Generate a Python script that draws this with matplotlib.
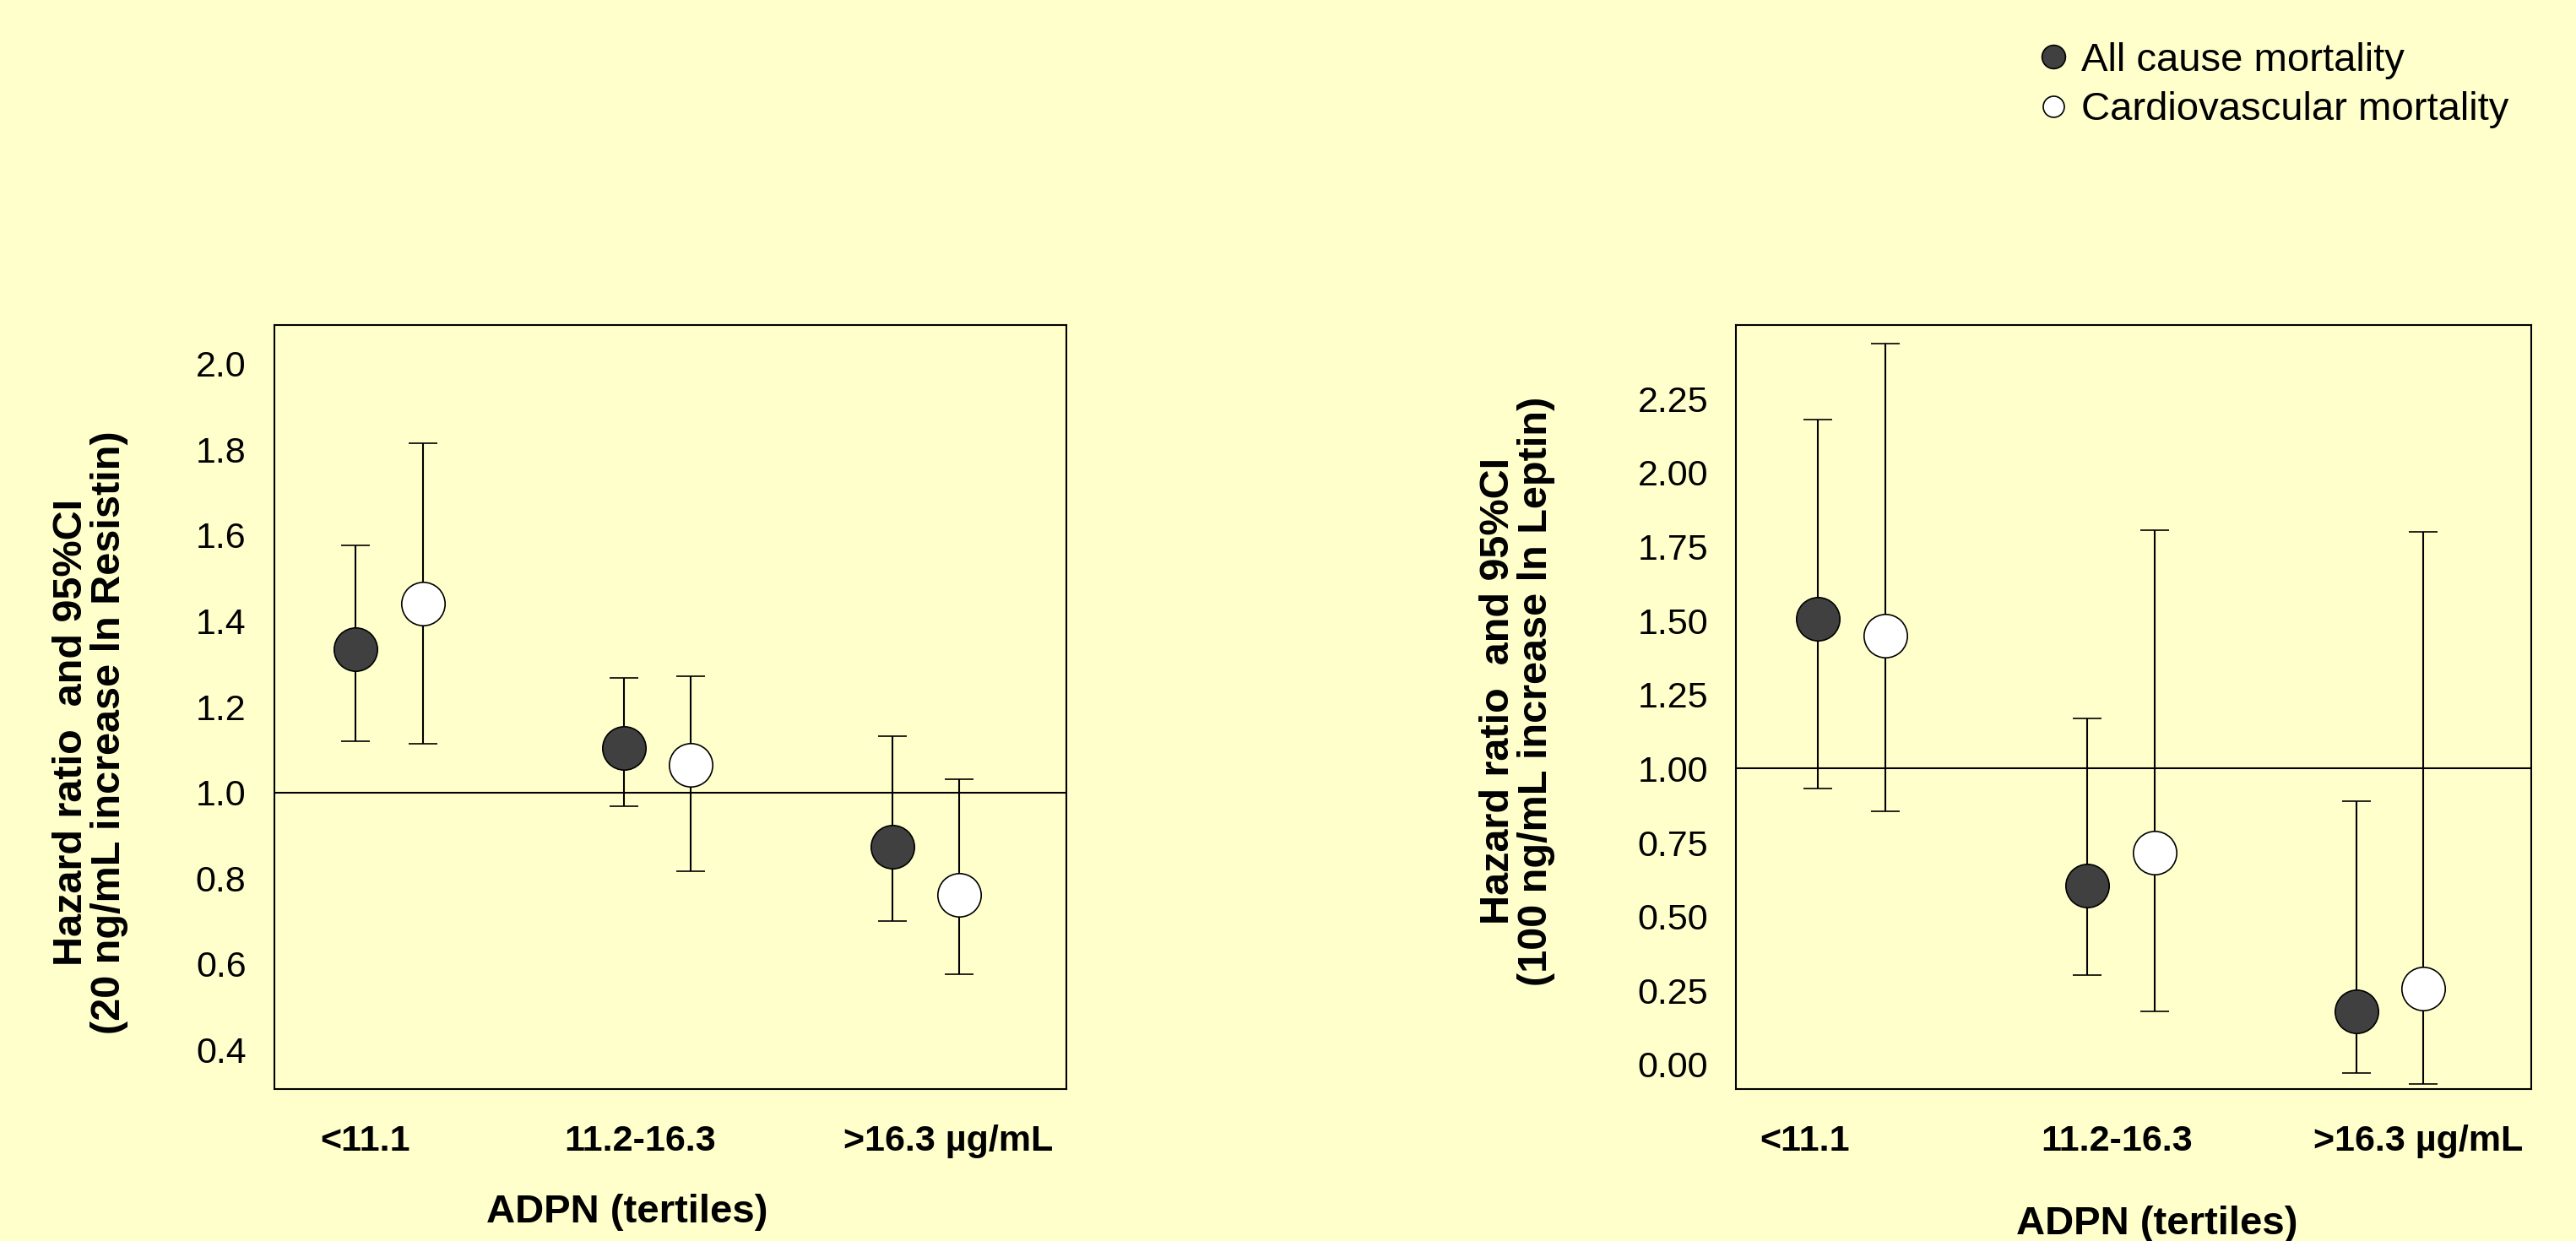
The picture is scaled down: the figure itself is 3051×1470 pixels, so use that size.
import numpy as np
import matplotlib.pyplot as plt
from matplotlib.lines import Line2D

plt.rcParams['font.family'] = ['Liberation Sans', 'DejaVu Sans']

groups = ['<11.1', '11.2-16.3', '>16.3 µg/mL']

# Resistin panel (HR and 95% CI)
res_all = [1.335, 1.103, 0.873]
res_all_lo = [1.119, 0.968, 0.700]
res_all_hi = [1.576, 1.267, 1.132]
res_cv = [1.441, 1.064, 0.762]
res_cv_lo = [1.114, 0.816, 0.575]
res_cv_hi = [1.814, 1.272, 1.030]

# Leptin panel (HR and 95% CI)
lep_all = [1.505, 0.604, 0.181]
lep_all_lo = [0.932, 0.302, -0.030]
lep_all_hi = [2.179, 1.168, 0.890]
lep_cv = [1.450, 0.715, 0.258]
lep_cv_lo = [0.856, 0.181, -0.067]
lep_cv_hi = [2.437, 1.805, 1.799]

bg = '#FFFFCC'
dark = '#404040'

fig = plt.figure(figsize=(30.51, 14.7), dpi=100, facecolor=bg)


def panel(ax, allv, alo, ahi, cvv, clo, chi, ylim, yticks, fmt, tickpos):
    ax.set_facecolor(bg)
    x = np.arange(len(groups))
    allv, alo, ahi = map(np.array, (allv, alo, ahi))
    cvv, clo, chi = map(np.array, (cvv, clo, chi))
    ax.axhline(1.0, color='black', lw=1.5, zorder=1)
    ax.errorbar(x, allv, yerr=[allv - alo, ahi - allv], fmt='o', ms=37,
                mfc=dark, mec='black', mew=1.2, ecolor='black', elinewidth=1.5,
                capsize=12, capthick=1.5, zorder=3)
    ax.errorbar(x + 0.25, cvv, yerr=[cvv - clo, chi - cvv], fmt='o', ms=37,
                mfc='white', mec='black', mew=1.2, ecolor='black', elinewidth=1.5,
                capsize=12, capthick=1.5, zorder=3)
    ax.set_xlim(-0.304, 2.65)
    ax.set_ylim(*ylim)
    ax.set_yticks(yticks)
    ax.set_yticklabels([fmt.format(v) for v in yticks], fontsize=31)
    ax.set_xticks(tickpos)
    ax.set_xticklabels(groups, fontsize=31, fontweight='bold')
    ax.tick_params(length=0, pad=24)
    ax.tick_params(axis='x', pad=30)
    for s in ax.spines.values():
        s.set_linewidth(1.5)


ax1 = fig.add_axes([0.1065, 0.1224, 0.3075, 0.6156])
panel(ax1, res_all, res_all_lo, res_all_hi, res_cv, res_cv_lo, res_cv_hi,
      (0.308, 2.09), np.arange(0.4, 2.01, 0.2), '{:.1f}', [0.035, 1.06, 2.21])

ax2 = fig.add_axes([0.674, 0.1224, 0.3086, 0.6156])
panel(ax2, lep_all, lep_all_lo, lep_all_hi, lep_cv, lep_cv_lo, lep_cv_hi,
      (-0.083, 2.498), np.arange(0.0, 2.26, 0.25), '{:.2f}', [-0.05, 1.11, 2.23])

fig.text(0.035, 0.41, 'Hazard ratio  and 95%CI\n(20 ng/mL increase ln Resistin)',
         rotation=90, ha='center', va='center', fontsize=35, fontweight='bold',
         linespacing=1.0)
fig.text(0.589, 0.443, 'Hazard ratio  and 95%CI\n(100 ng/mL increase ln Leptin)',
         rotation=90, ha='center', va='center', fontsize=35, fontweight='bold',
         linespacing=1.0)

fig.text(0.2435, 0.023, 'ADPN (tertiles)', ha='center', va='center',
         fontsize=34, fontweight='bold')
fig.text(0.8375, 0.0136, 'ADPN (tertiles)', ha='center', va='center',
         fontsize=34, fontweight='bold')

handles = [
    Line2D([], [], ls='none', marker='o', ms=20, mfc=dark, mec='black', mew=1.2),
    Line2D([], [], ls='none', marker='o', ms=18, mfc='white', mec='black', mew=1.2),
]
fig.legend(handles, ['All cause mortality', 'Cardiovascular mortality'],
           loc='upper left', bbox_to_anchor=(0.791, 0.966), frameon=False,
           fontsize=34, handlelength=0.8, handletextpad=0.3, labelspacing=0.3,
           borderpad=0, borderaxespad=0)

fig.savefig('out.png', dpi=100, facecolor=bg)
